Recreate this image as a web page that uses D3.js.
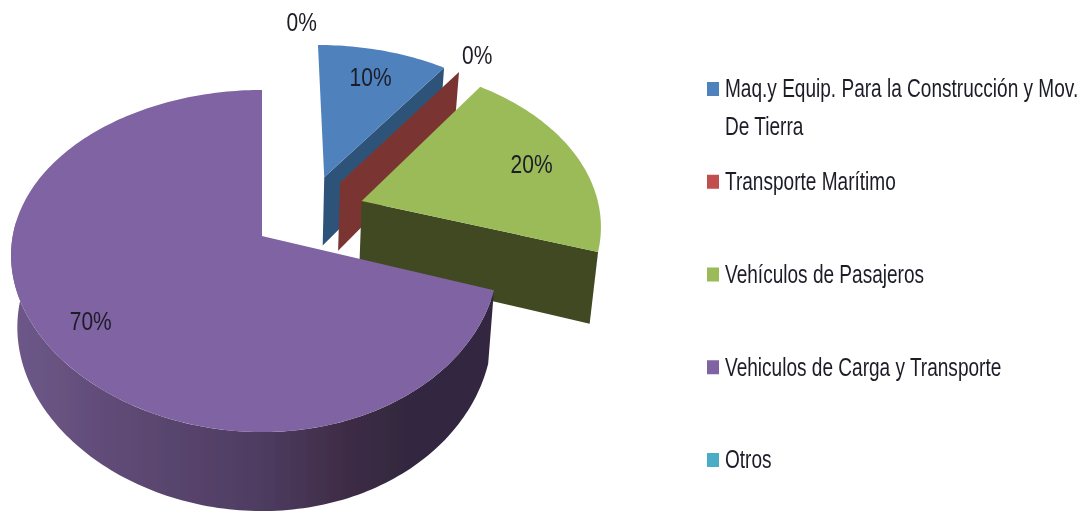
<!DOCTYPE html>
<html>
<head>
<meta charset="utf-8">
<script src="https://cdn.jsdelivr.net/npm/d3@7"></script>
<style>
  html, body { margin: 0; background: #fff; }
  svg { display: block; }
  text { font-family: "Liberation Sans", sans-serif; fill: #1c1c28; }
</style>
</head>
<body>
<svg id="chart" width="1092" height="513"></svg>
<script>
// chart values
var categories = ["Maq.y Equip. Para la Construcción y Mov. De Tierra", "Transporte Marítimo",
  "Vehículos de Pasajeros", "Vehiculos de Carga y Transporte", "Otros"];
var legendLines = [["Maq.y Equip. Para la Construcción y Mov.", "De Tierra"], ["Transporte Marítimo"],
  ["Vehículos de Pasajeros"], ["Vehiculos de Carga y Transporte"], ["Otros"]];
var values = [10, 0, 20, 70, 0];
var topColors = ["#4f81bd", "#c0504d", "#9bbb59", "#8064a2", "#4bacc6"];
var wallColors = ["#2f5379", "#7a3533", "#3f4a20", "#4a3a60", "#2c6675"];
var labelRadius = [0.77, 1.17, 0.79, 0.81, 1.19];

// layout of the fake 3d pie
var cx = 262, cy = 236,
  rx = 242, ry = 167.4,
  persp = 6.84,
  explode = 0.24,
  bottomShrink = 0.975,
  purpleSkew = 0.03,
  textSquash = 0.762,
  percentSquash = 0.84,
  fontSize = 25;

var svg = d3.select("#chart");
var defs = svg.append("defs");

defs.append("filter").attr("id", "soft")
  .attr("x", "-5%").attr("y", "-5%").attr("width", "110%").attr("height", "110%")
  .append("feGaussianBlur").attr("stdDeviation", 0.45);

var grad = defs.append("linearGradient").attr("id", "rimShade")
  .attr("gradientUnits", "userSpaceOnUse")
  .attr("x1", 15).attr("x2", 495).attr("y1", 0).attr("y2", 0);
[[0, "#6d5889"], [0.25, "#5d4873"], [0.5, "#4f3d62"], [0.7, "#3d2b45"], [0.82, "#32283f"], [1, "#32283f"]]
  .forEach(function(s){
    grad.append("stop").attr("offset", s[0]).attr("stop-color", s[1]);
  });

var root = svg.append("g").attr("filter", "url(#soft)");

var rows = categories.map(function(name, i){
  return {name: name, value: values[i], index: i};
});

var slices = d3.pie()
  .sort(null)
  .value(function(d){ return d.value; })
  .startAngle(0)
  .endAngle(2 * Math.PI)(rows);

var mid = function(d){ return (d.startAngle + d.endAngle) / 2; };
var anchor = mid(slices[3]);

// disc position (radius r, angle t clockwise from north) to screen
var project = function(d, r, t, low){
  var m = mid(d),
    lx = r * Math.sin(t),
    ly = r * Math.cos(t);
  if(d.index === 3){ lx -= purpleSkew * lx * lx; }

  var X = explode * (Math.sin(m) - Math.sin(anchor)) + lx,
    Y = explode * (Math.cos(m) - Math.cos(anchor)) + ly,
    x = cx + rx * X * persp / (persp + Y * 0.8),
    y = cy - ry * Y * persp / (persp + Y);

  if(low){
    x = cx + (x - cx) * bottomShrink;
    y += 71 - 8 * Y;
  }
  return [x, y];
};

var line = d3.line();

var arcAngles = function(a, b){
  var n = Math.max(2, Math.ceil((b - a) / 0.02)),
    out = d3.range(n).map(function(i){ return a + (b - a) * i / (n - 1); });
  return out;
};

var topFace = function(d){
  var pts = arcAngles(d.startAngle, d.endAngle).map(function(t){ return project(d, 1, t); });
  return line([project(d, 0, 0)].concat(pts)) + "Z";
};

var endFace = function(d){
  var t = d.endAngle;
  return line([project(d, 0, t), project(d, 1, t), project(d, 1, t, true), project(d, 0, t, true)]) + "Z";
};

// only the rim past the front corner of a slice shows
var rimFace = function(d){
  var a = Math.max(d.startAngle, 0.6 * Math.PI),
    b = Math.min(d.endAngle, 1.53 * Math.PI);
  if(b <= a + 0.001){ return null; }
  var ts = arcAngles(a, b),
    up = ts.map(function(t){ return project(d, 1, t); }),
    low = ts.slice().reverse().map(function(t){ return project(d, 1, t, true); });
  return line(up.concat(low)) + "Z";
};

// painter's order: back slices first, purple last
slices.forEach(function(d){
  if(Math.sin(d.endAngle) > 0.01){
    root.append("path").attr("d", endFace(d)).attr("fill", wallColors[d.index]);
  }
  var rim = rimFace(d);
  if(rim){
    root.append("path").attr("d", rim)
      .attr("fill", d.index === 3 ? "url(#rimShade)" : wallColors[d.index]);
  }
  if(d.value > 0){
    root.append("path").attr("d", topFace(d)).attr("fill", topColors[d.index]);
  }
});

var squashed = function(parent, x, y, str, sq){
  return parent.append("text")
    .attr("transform", "translate(" + x + "," + y + ") scale(" + sq + ",1)")
    .attr("font-size", fontSize)
    .attr("dominant-baseline", "central")
    .text(str);
};

// percent labels
slices.forEach(function(d){
  var p = project(d, labelRadius[d.index], mid(d));
  squashed(root, p[0], p[1], d3.format(".0f")(d.value) + "%", percentSquash)
    .attr("text-anchor", "middle");
});

// legend
var legendY = d3.scalePoint().domain(categories).range([89, 460]);

categories.forEach(function(name, i){
  var y = legendY(name);
  root.append("rect")
    .attr("x", 707).attr("y", y - 7)
    .attr("width", 12).attr("height", 14)
    .attr("fill", topColors[i]);
  legendLines[i].forEach(function(str, j){
    squashed(root, 725, y + j * 38, str, textSquash);
  });
});
</script>
</body>
</html>
